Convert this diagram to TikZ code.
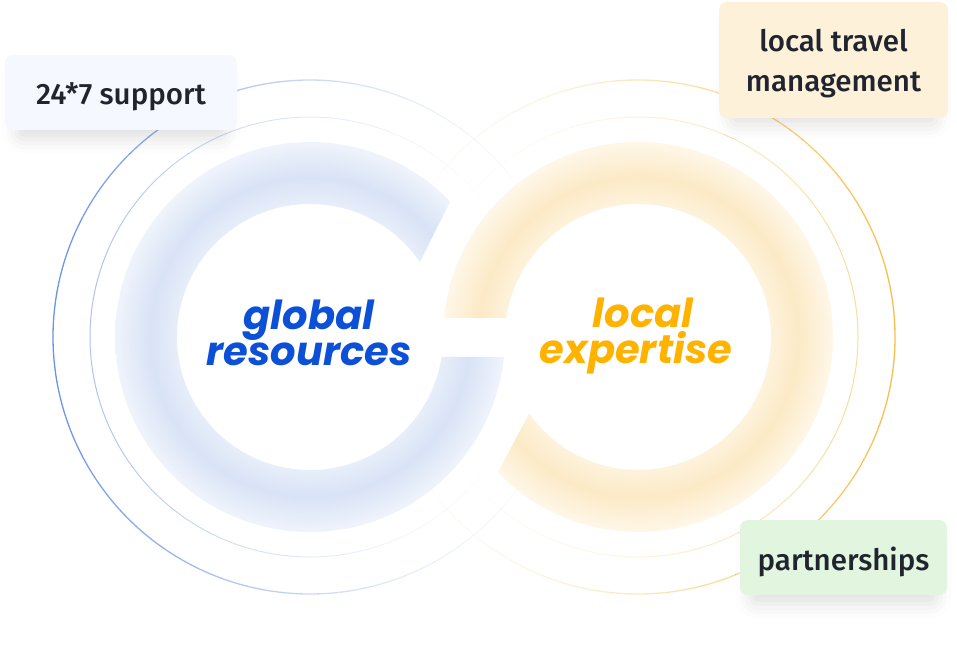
\documentclass[tikz,border=0pt]{standalone}
\usepackage{fontspec}
\setmainfont{Fira Sans Medium}
\newfontfamily\headfont{Poppins}
\usetikzlibrary{shadows.blur}

\definecolor{ringblue}{HTML}{5A86E0}
\definecolor{ringyellow}{HTML}{F6B737}
\definecolor{bandblue}{HTML}{D8E3F6}
\definecolor{bandyellow}{HTML}{FCEAC6}
\definecolor{globalblue}{HTML}{0B50D7}
\definecolor{localorange}{HTML}{FFB300}
\definecolor{labeltext}{HTML}{1F242E}
\definecolor{supportfill}{HTML}{F5F8FF}
\definecolor{travelfill}{HTML}{FDF1DA}
\definecolor{partnerfill}{HTML}{E1F5DF}

\pgfdeclareradialshading{blueband}{\pgfpointorigin}{%
  color(0bp)=(white); color(17bp)=(bandblue!60); color(20.5bp)=(bandblue);
  color(25bp)=(bandblue!40); color(50bp)=(bandblue!40)}
\pgfdeclareradialshading{yellowband}{\pgfpointorigin}{%
  color(0bp)=(white); color(17bp)=(bandyellow!60); color(20.5bp)=(bandyellow);
  color(25bp)=(bandyellow!40); color(50bp)=(bandyellow!40)}

% text set a little lower than the middle of its box
\newcommand{\lowline}[1]{\raisebox{-4pt}[\height][\depth]{#1}}

\tikzset{%
  % Specifications for style of rings and labels:
      outerring/.style = {line width=1.3pt},
     middlering/.style = {line width=1pt},
       labelbox/.style = {rectangle, rounded corners=8pt, minimum height=75pt,
                          text=labeltext, align=center,
                          font=\fontsize{29.5}{40}\selectfont,
                          blur shadow={shadow xshift=0pt, shadow yshift=-14pt,
                                       shadow opacity=12, shadow scale=0.9,
                                       shadow blur radius=16pt}},
       bandtext/.style = {align=center, inner sep=0pt,
                          font=\headfont\bfseries\itshape\fontsize{40}{36}\selectfont},
}

\begin{document}
\begin{tikzpicture}[x=1pt, y=1pt]
  \useasboundingbox (0,0) rectangle (957,-647);

  % Centres of the two rings
  \coordinate (L) at (310,-337);
  \coordinate (R) at (638,-337);

  % Thin circles, fading out towards the other ring
  \foreach \a in {0,4,...,356}{
    \pgfmathsetmacro\fl{((1-cos(\a+2))/2)^1.5}
    \pgfmathsetmacro\fr{((1+cos(\a+2))/2)^1.5}
    \pgfmathsetmacro\opL{0.9*\fl}
    \pgfmathsetmacro\opR{0.9*\fr}
    \pgfmathsetmacro\opl{0.5*\fl}
    \pgfmathsetmacro\opr{0.5*\fr}
    \draw[outerring, draw=ringblue, draw opacity=\opL]
      (L) ++(\a:257) arc[start angle=\a, delta angle=4, radius=257pt];
    \draw[middlering, draw=ringblue, draw opacity=\opl]
      (L) ++(\a:220) arc[start angle=\a, delta angle=4, radius=220pt];
    \draw[outerring, draw=ringyellow, draw opacity=\opR]
      (R) ++(\a:257) arc[start angle=\a, delta angle=4, radius=257pt];
    \draw[middlering, draw=ringyellow, draw opacity=\opr]
      (R) ++(\a:220) arc[start angle=\a, delta angle=4, radius=220pt];
  }

  % Thick open bands
  \begin{scope}
    \clip ([shift={(44:195)}]L) arc[start angle=44, end angle=354.1, radius=195pt]
      -- ([shift={(351.4:133)}]L) arc[start angle=351.4, end angle=34.3, radius=133pt]
      -- cycle;
    \shade[shading=blueband] (L) circle[radius=195pt];
  \end{scope}
  \begin{scope}
    \clip ([shift={(174.4:195)}]R) arc[start angle=174.4, end angle=-136, radius=195pt]
      -- ([shift={(-144.9:133)}]R) arc[start angle=-144.9, end angle=171.8, radius=133pt]
      -- cycle;
    \shade[shading=yellowband] (R) circle[radius=195pt];
  \end{scope}

  % Texts in the middle of the bands
  \node (global) [bandtext, text=globalblue]  at (309,-333) {global\\resources};
  \node (local)  [bandtext, text=localorange] at (636,-336)
                 {\hspace*{14pt}local\\expertise};

  % Labels round the rings
  \node (support) [labelbox, fill=supportfill, minimum width=232pt]
                  at (121,-92.5) {\lowline{24*7 support}};
  \node (travel)  [labelbox, fill=travelfill, minimum width=229pt,
                   minimum height=116pt] at (833.5,-60)
                  {\lowline{local travel}\\\lowline{management}};
  \node (partner) [labelbox, fill=partnerfill, minimum width=207pt]
                  at (843.5,-557.5) {\lowline{partnerships}};
\end{tikzpicture}
\end{document}
